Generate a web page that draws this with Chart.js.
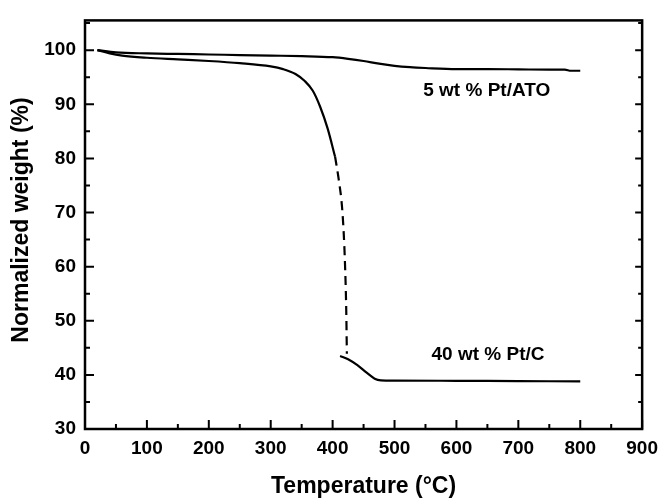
<!DOCTYPE html>
<html>
<head>
<meta charset="utf-8">
<script src="https://cdn.jsdelivr.net/npm/chart.js@4.4.1/dist/chart.umd.min.js"></script>
<style>
  html, body { margin: 0; padding: 0; background: #fff; }
  #wrap { width: 666px; height: 500px; }
</style>
</head>
<body>
<div id="wrap"><canvas id="tga"></canvas></div>
<script>
// --- data ---
const atoTemp   = [20, 50, 100, 150, 200, 250, 300, 350, 400, 425, 450, 475, 500, 525, 550, 600, 650, 700, 750, 775, 785, 800];
const atoWeight = [100, 99.6, 99.4, 99.3, 99.2, 99.1, 99.0, 98.9, 98.7, 98.4, 98.0, 97.5, 97.1, 96.85, 96.7, 96.5, 96.5, 96.45, 96.4, 96.4, 96.2, 96.2];

// Pt/C: solid part before the drop
const ptcTempA   = [20, 40, 60, 100, 150, 200, 250, 300, 320, 340, 355, 368, 380, 392, 404];
const ptcWeightA = [100, 99.4, 99.0, 98.6, 98.3, 98.0, 97.6, 97.0, 96.5, 95.6, 94.3, 92.5, 89.5, 85.5, 80.3];

// Pt/C: dashed drop
const ptcTempB   = [404, 410, 415, 418, 420, 422, 423];
const ptcWeightB = [80.3, 76.0, 71.3, 66.0, 60.5, 52.0, 43.9];

// Pt/C: solid part after the drop
const ptcTempC   = [412, 425, 440, 455, 468, 478, 500, 600, 700, 800];
const ptcWeightC = [43.5, 42.9, 41.8, 40.4, 39.3, 39.0, 38.95, 38.9, 38.85, 38.8];

const xTicks = [0, 100, 200, 300, 400, 500, 600, 700, 800, 900];
const yTicks = [30, 40, 50, 60, 70, 80, 90, 100];

const FONT = '"Liberation Sans", Arial, sans-serif';

function pts(xs, ys) { return xs.map((x, i) => ({ x: x, y: ys[i] })); }

function lineSet(data, dash) {
    return {
        data: data,
        borderColor: '#000',
        borderWidth: 2.2,
        borderDash: dash,
        pointRadius: 0,
        cubicInterpolationMode: 'monotone',
        fill: false
    };
}

// frame, inward ticks, axis titles and curve labels
const decor = {
    id: 'decor',
    afterDraw(chart) {
        const ctx = chart.ctx;
        const a = chart.chartArea;
        const xs = chart.scales.x, ys = chart.scales.y;
        ctx.save();
        ctx.strokeStyle = '#000';
        ctx.lineWidth = 2.5;
        ctx.strokeRect(a.left, a.top, a.right - a.left, a.bottom - a.top);

        ctx.lineWidth = 2;
        ctx.beginPath();
        for (let v = 0; v <= 900; v += 50) {
            const px = xs.getPixelForValue(v);
            const len = v % 100 === 0 ? 9 : 5;
            ctx.moveTo(px, a.bottom);
            ctx.lineTo(px, a.bottom - len);
        }
        for (let v = 30; v <= 105; v += 5) {
            const py = ys.getPixelForValue(v);
            const len = v % 10 === 0 ? 9 : 5;
            ctx.moveTo(a.left, py);
            ctx.lineTo(a.left + len, py);
            const rl = v % 10 === 0 ? 7 : 4;
            ctx.moveTo(a.right, py);
            ctx.lineTo(a.right - rl, py);
        }
        ctx.stroke();

        ctx.fillStyle = '#000';
        ctx.textAlign = 'center';
        ctx.textBaseline = 'middle';
        ctx.font = 'bold 19px ' + FONT;
        ctx.fillText('5 wt % Pt/ATO', xs.getPixelForValue(649), ys.getPixelForValue(92.5));
        ctx.fillText('40 wt % Pt/C', xs.getPixelForValue(651), ys.getPixelForValue(43.7));

        ctx.font = 'bold 23px ' + FONT;
        ctx.fillText('Temperature (°C)', (a.left + a.right) / 2, 487);
        ctx.translate(22, 220);
        ctx.rotate(-Math.PI / 2);
        ctx.fillText('Normalized weight (%)', 0, 0);
        ctx.restore();
    }
};

new Chart(document.getElementById('tga'), {
    type: 'line',
    data: {
        datasets: [
            lineSet(pts(atoTemp, atoWeight), []),
            lineSet(pts(ptcTempA, ptcWeightA), []),
            lineSet(pts(ptcTempB, ptcWeightB), [9, 6]),
            lineSet(pts(ptcTempC, ptcWeightC), [])
        ]
    },
    options: {
        responsive: true,
        maintainAspectRatio: false,
        animation: false,
        layout: { padding: { left: 0, top: 12, right: 17, bottom: 0 } },
        plugins: { legend: { display: false }, tooltip: { enabled: false } },
        scales: {
            x: {
                type: 'linear',
                min: 0, max: 900,
                grid: { display: false, drawTicks: false },
                border: { display: false },
                afterBuildTicks: s => { s.ticks = xTicks.map(v => ({ value: v })); },
                afterFit: s => { s.height = 71; },
                ticks: { color: '#000', padding: 8, maxRotation: 0, font: { family: FONT, size: 19, weight: 'bold' } }
            },
            y: {
                min: 30, max: 105.5,
                grid: { display: false, drawTicks: false },
                border: { display: false },
                afterBuildTicks: s => { s.ticks = yTicks.map(v => ({ value: v })); },
                afterFit: s => { s.width = 85; },
                ticks: { color: '#000', padding: 9, font: { family: FONT, size: 19, weight: 'bold' } }
            }
        }
    },
    plugins: [decor]
});
</script>
</body>
</html>
